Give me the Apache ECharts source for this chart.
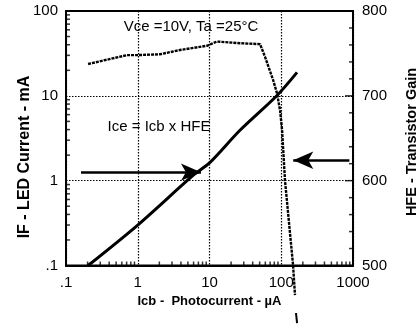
<!DOCTYPE html>
<html>
<head>
<meta charset="utf-8">
<script src="https://cdn.jsdelivr.net/npm/echarts@6/dist/echarts.min.js"></script>
<style>html,body{margin:0;padding:0;background:#fff}#c{width:418px;height:327px}</style>
</head>
<body>
<div id="c"></div>
<script>
// tick labels
const xTickLabels = ['.1', '1', '10', '100', '1000'];
const yTickLabels = ['.1', '1', '10', '100'];
const hfeTickLabels = ['500', '600', '700', '800'];
// minor log ticks
const minorTicksX = [0.2,0.3,0.4,0.5,0.6,0.7,0.8,0.9,2,3,4,5,6,7,8,9,20,30,40,50,60,70,80,90,200,300,400,500,600,700,800,900];
const minorTicksY = [0.2,0.3,0.4,0.5,0.6,0.7,0.8,0.9,2,3,4,5,6,7,8,9,20,30,40,50,60,70,80,90];
// HFE axis ticks
const hfeMinorTicks = [520,540,560,580,620,640,660,680,720,740,760,780];
const hfeMajorTicks = [600,700];
// Ice = Icb x HFE curve (Icb uA, IF mA)
const iceIcb = [0.203, 1, 5.95, 10, 26.6, 87.3, 166];
const iceIF  = [0.1, 0.30, 1.16, 1.62, 3.93, 10.1, 18.9];
// HFE curve (Icb uA, gain)
const hfeIcb  = [0.203, 0.708, 1, 2.04, 3.88, 9.23, 12.7, 26.6, 50.6, 59.4, 76.8, 87.3, 96.2, 102.6, 112.8, 146, 155.5];
const hfeGain = [737.5, 748, 748, 749, 754, 759, 764, 762, 761, 746, 719, 703, 683, 660, 600, 500.6, 465];
const hfeTailIcb  = [160.6, 166];
const hfeTailGain = [444, 432];
// arrows (Icb uA, IF mA)
const arrowLeftIcb  = [0.162, 7.6];
const arrowLeftIF   = [1.26, 1.26];
const arrowRightIcb = [890, 147];
const arrowRightIF  = [1.74, 1.74];

const FONT = 'Liberation Sans';
const chart = echarts.init(document.getElementById('c'));
const zip = (a, b) => a.map((v, i) => [v, b[i]]);
const logLabel = (arr) => (v) => arr[Math.round(Math.log10(v)) + 1];
const tickSeries = (data, xi, yi, size, offset) => ({
  type: 'scatter', xAxisIndex: xi, yAxisIndex: yi, data: data, symbol: 'rect',
  symbolSize: size, symbolOffset: offset, clip: false, silent: true, z: 5,
  itemStyle: { color: '#000' }
});

chart.setOption({
  animation: false,
  backgroundColor: '#fff',
  grid: { left: 66, top: 11, right: 65, bottom: 61.5, show: true, borderColor: '#000', borderWidth: 2 },
  xAxis: [{
    type: 'log', logBase: 10, min: 0.1, max: 1000,
    axisLine: { lineStyle: { color: '#000', width: 2 } },
    axisTick: { show: false },
    splitLine: { show: true, lineStyle: { color: '#000', type: [1.5, 1.5], width: 1.2 } },
    axisLabel: { color: '#000', fontFamily: FONT, fontSize: 15, margin: 10, formatter: logLabel(xTickLabels) },
    name: 'Icb -  Photocurrent - µA', nameLocation: 'middle', nameGap: 25,
    nameTextStyle: { color: '#000', fontFamily: FONT, fontSize: 13, fontWeight: 'bold' }
  }],
  yAxis: [{
    type: 'log', logBase: 10, min: 0.1, max: 100,
    axisLine: { lineStyle: { color: '#000', width: 2 } },
    axisTick: { show: false },
    splitLine: { show: true, lineStyle: { color: '#000', type: [1.5, 1.5], width: 1.2 } },
    axisLabel: { color: '#000', fontFamily: FONT, fontSize: 15, margin: 8, formatter: logLabel(yTickLabels) }
  }, {
    type: 'value', min: 500, max: 800, interval: 100, position: 'right',
    axisLine: { show: true, lineStyle: { color: '#000', width: 2 } },
    axisTick: { show: false },
    splitLine: { show: false },
    axisLabel: { color: '#000', fontFamily: FONT, fontSize: 15, margin: 9,
      formatter: (v) => hfeTickLabels[Math.round((v - 500) / 100)] }
  }],
  graphic: [
    { type: 'text', x: 25, y: 157, rotation: Math.PI / 2,
      style: { text: 'IF - LED Current - mA', fill: '#000', font: 'bold 16px "Liberation Sans"', textAlign: 'center', textVerticalAlign: 'middle' } },
    { type: 'text', x: 412, y: 142, rotation: Math.PI / 2,
      style: { text: 'HFE - Transistor Gain', fill: '#000', font: 'bold 14.5px "Liberation Sans"', textAlign: 'center', textVerticalAlign: 'middle' } },
    { type: 'text', x: 191, y: 27,
      style: { text: 'Vce =10V, Ta =25°C', fill: '#000', font: '15px "Liberation Sans"', textAlign: 'center', textVerticalAlign: 'middle' } },
    { type: 'text', x: 159, y: 127,
      style: { text: 'Ice = Icb x HFE', fill: '#000', font: '15px "Liberation Sans"', textAlign: 'center', textVerticalAlign: 'middle' } }
  ],
  series: [
    tickSeries(minorTicksX.map(v => [v, 0.1]), 0, 0, [1.5, 4], [0, -2]),
    tickSeries(minorTicksY.map(v => [0.1, v]), 0, 0, [4, 1.5], [2, 0]),
    tickSeries(hfeMinorTicks.map(v => [1000, v]), 0, 1, [4, 1.5], [-2, 0]),
    tickSeries(hfeMajorTicks.map(v => [1000, v]), 0, 1, [8, 1.5], [-4, 0]),
    { type: 'line', xAxisIndex: 0, yAxisIndex: 0, data: zip(iceIcb, iceIF), smooth: 0.3,
      showSymbol: false, lineStyle: { color: '#000', width: 3 }, silent: true,
      markLine: { silent: true, symbol: ['none', 'arrow'], symbolSize: [13, 20], label: { show: false },
        lineStyle: { color: '#000', width: 2.5, type: 'solid' },
        data: [
          [{ coord: [arrowLeftIcb[0], arrowLeftIF[0]] }, { coord: [arrowLeftIcb[1], arrowLeftIF[1]] }],
          [{ coord: [arrowRightIcb[0], arrowRightIF[0]] }, { coord: [arrowRightIcb[1], arrowRightIF[1]] }]
        ] } },
    { type: 'line', xAxisIndex: 0, yAxisIndex: 1, data: zip(hfeIcb, hfeGain), clip: false,
      showSymbol: false, lineStyle: { color: '#000', width: 2.4, type: [3, 1] }, silent: true },
    { type: 'line', xAxisIndex: 0, yAxisIndex: 1, data: zip(hfeTailIcb, hfeTailGain), clip: false,
      showSymbol: false, lineStyle: { color: '#000', width: 2 }, silent: true }
  ]
});
</script>
</body>
</html>
